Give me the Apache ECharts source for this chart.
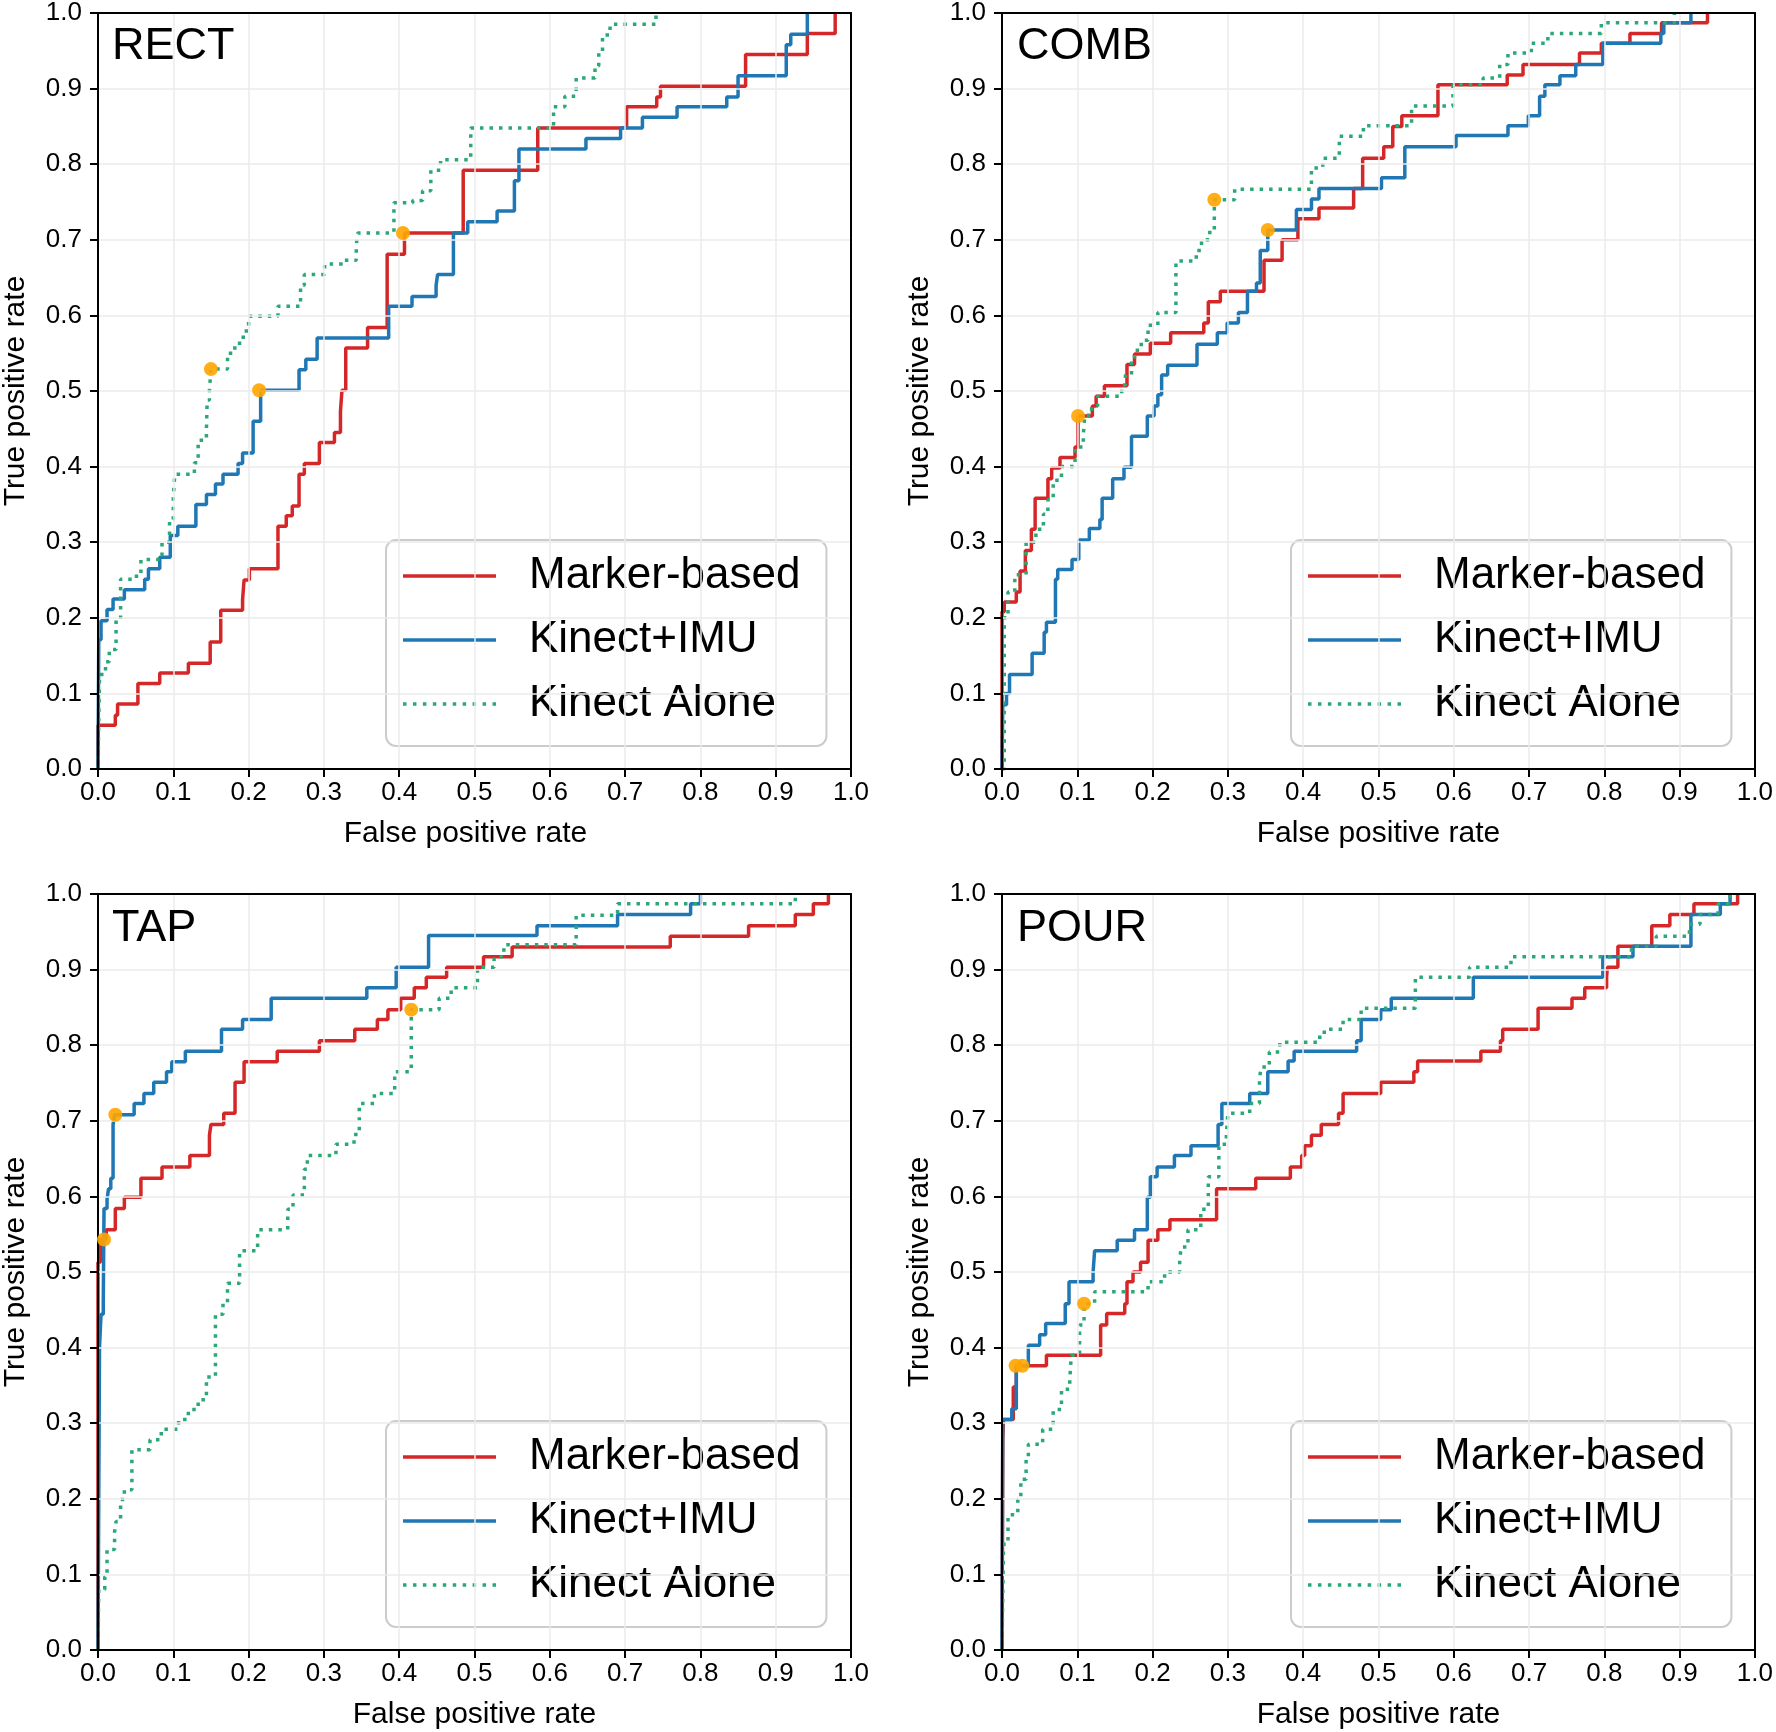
<!DOCTYPE html>
<html><head><meta charset="utf-8">
<script src="https://cdn.jsdelivr.net/npm/echarts@6/dist/echarts.min.js"></script>
<style>html,body{margin:0;padding:0;background:#fff}#c{width:1776px;height:1732px}</style>
</head><body><div id="c"></div>
<script>
// ---------------- DATA ----------------
const panelNames = ['RECT', 'COMB', 'TAP', 'POUR'];
const seriesNames = ['Marker-based', 'Kinect+IMU', 'Kinect Alone'];
const tickLabels = ['0.0','0.1','0.2','0.3','0.4','0.5','0.6','0.7','0.8','0.9','1.0'];
const xAxisTitle = 'False positive rate';
const yAxisTitle = 'True positive rate';

// each point: [false positive rate where the curve jumps, true positive rate after the jump]
const rectMarkerBased = [[0,0],[0,0.058],[0.023,0.071],[0.026,0.086],[0.053,0.113],[0.082,0.127],[0.120,0.140],[0.149,0.168],[0.163,0.210],[0.192,0.224],[0.194,0.250],[0.201,0.265],[0.239,0.321],[0.250,0.335],[0.258,0.348],[0.267,0.390],[0.274,0.404],[0.294,0.432],[0.314,0.445],[0.322,0.473],[0.324,0.501],[0.329,0.557],[0.358,0.584],[0.384,0.681],[0.407,0.709],[0.485,0.792],[0.584,0.848],[0.702,0.876],[0.742,0.889],[0.747,0.903],[0.860,0.945],[0.942,0.973],[0.979,1.0]];
const rectKinectIMU = [[0,0],[0.001,0.171],[0.004,0.196],[0.012,0.211],[0.020,0.225],[0.035,0.237],[0.062,0.251],[0.067,0.265],[0.082,0.280],[0.096,0.309],[0.106,0.321],[0.130,0.350],[0.144,0.363],[0.156,0.377],[0.166,0.390],[0.186,0.404],[0.192,0.418],[0.206,0.460],[0.216,0.501],[0.267,0.528],[0.276,0.542],[0.291,0.570],[0.386,0.612],[0.417,0.625],[0.449,0.640],[0.451,0.654],[0.472,0.709],[0.491,0.724],[0.530,0.738],[0.553,0.778],[0.559,0.820],[0.648,0.834],[0.694,0.848],[0.723,0.862],[0.769,0.876],[0.835,0.889],[0.850,0.917],[0.914,0.958],[0.920,0.972],[0.942,1.0]];
const rectKinectAlone = [[0,0],[0.002,0.125],[0.010,0.142],[0.015,0.158],[0.024,0.198],[0.030,0.251],[0.045,0.255],[0.057,0.277],[0.082,0.283],[0.085,0.300],[0.095,0.330],[0.100,0.360],[0.102,0.390],[0.128,0.405],[0.133,0.435],[0.144,0.449],[0.145,0.488],[0.148,0.501],[0.150,0.529],[0.172,0.544],[0.176,0.557],[0.188,0.571],[0.197,0.586],[0.200,0.599],[0.239,0.612],[0.269,0.640],[0.274,0.654],[0.301,0.668],[0.327,0.673],[0.343,0.693],[0.345,0.709],[0.393,0.749],[0.418,0.752],[0.431,0.765],[0.442,0.792],[0.455,0.806],[0.495,0.848],[0.605,0.876],[0.620,0.890],[0.635,0.914],[0.660,0.930],[0.665,0.947],[0.670,0.971],[0.680,0.985],[0.741,1.0]];
const rectOptimal = [[0.150,0.529],[0.214,0.501],[0.405,0.709]];

const combMarkerBased = [[0,0],[0,0.208],[0.003,0.221],[0.019,0.234],[0.024,0.262],[0.031,0.289],[0.039,0.317],[0.044,0.358],[0.061,0.384],[0.066,0.398],[0.077,0.412],[0.097,0.426],[0.101,0.467],[0.120,0.480],[0.125,0.493],[0.136,0.507],[0.166,0.535],[0.176,0.549],[0.197,0.563],[0.224,0.577],[0.268,0.590],[0.274,0.618],[0.290,0.632],[0.348,0.673],[0.372,0.700],[0.393,0.728],[0.421,0.742],[0.467,0.768],[0.479,0.808],[0.507,0.823],[0.519,0.850],[0.531,0.864],[0.579,0.905],[0.671,0.918],[0.692,0.932],[0.767,0.947],[0.796,0.960],[0.834,0.973],[0.876,0.987],[0.937,1.0]];
const combKinectIMU = [[0,0],[0.001,0.085],[0.006,0.100],[0.010,0.125],[0.040,0.153],[0.056,0.181],[0.059,0.194],[0.071,0.251],[0.074,0.264],[0.093,0.277],[0.102,0.303],[0.116,0.318],[0.130,0.330],[0.133,0.358],[0.147,0.384],[0.162,0.399],[0.172,0.440],[0.193,0.467],[0.202,0.480],[0.207,0.495],[0.212,0.521],[0.220,0.534],[0.259,0.562],[0.286,0.577],[0.299,0.590],[0.314,0.604],[0.326,0.632],[0.338,0.643],[0.343,0.686],[0.353,0.713],[0.391,0.740],[0.411,0.754],[0.421,0.768],[0.504,0.782],[0.535,0.823],[0.603,0.838],[0.672,0.851],[0.699,0.864],[0.714,0.890],[0.721,0.905],[0.741,0.917],[0.762,0.932],[0.798,0.960],[0.875,0.973],[0.879,0.987],[0.915,1.0]];
const combKinectAlone = [[0,0],[0.003,0.200],[0.008,0.234],[0.017,0.257],[0.032,0.300],[0.045,0.317],[0.055,0.337],[0.061,0.356],[0.068,0.382],[0.079,0.400],[0.097,0.426],[0.108,0.442],[0.110,0.468],[0.119,0.480],[0.127,0.493],[0.159,0.508],[0.164,0.521],[0.172,0.541],[0.176,0.554],[0.185,0.567],[0.194,0.587],[0.207,0.604],[0.231,0.672],[0.258,0.686],[0.265,0.700],[0.276,0.713],[0.282,0.753],[0.309,0.767],[0.411,0.795],[0.426,0.808],[0.448,0.837],[0.480,0.851],[0.544,0.877],[0.599,0.905],[0.639,0.914],[0.661,0.932],[0.672,0.947],[0.703,0.960],[0.725,0.973],[0.796,0.987],[0.893,1.0]];
const combOptimal = [[0.101,0.467],[0.282,0.753],[0.353,0.713]];

const tapMarkerBased = [[0,0],[0,0.513],[0.003,0.543],[0.011,0.556],[0.023,0.584],[0.035,0.599],[0.057,0.624],[0.085,0.639],[0.122,0.654],[0.148,0.681],[0.150,0.695],[0.167,0.710],[0.182,0.751],[0.194,0.778],[0.238,0.792],[0.294,0.806],[0.341,0.821],[0.371,0.834],[0.385,0.847],[0.402,0.862],[0.420,0.876],[0.436,0.890],[0.463,0.903],[0.512,0.917],[0.550,0.930],[0.760,0.944],[0.864,0.958],[0.926,0.973],[0.950,0.987],[0.970,1.0]];
const tapKinectIMU = [[0,0],[0.002,0.400],[0.004,0.444],[0.007,0.458],[0.008,0.584],[0.012,0.596],[0.014,0.610],[0.017,0.624],[0.020,0.695],[0.022,0.708],[0.048,0.723],[0.061,0.736],[0.074,0.751],[0.091,0.765],[0.098,0.778],[0.116,0.792],[0.164,0.821],[0.192,0.834],[0.230,0.862],[0.357,0.876],[0.396,0.903],[0.439,0.945],[0.583,0.958],[0.690,0.973],[0.787,0.987],[0.800,1.0]];
const tapKinectAlone = [[0,0],[0.001,0.080],[0.009,0.097],[0.012,0.133],[0.022,0.156],[0.024,0.170],[0.030,0.199],[0.035,0.212],[0.045,0.265],[0.069,0.278],[0.084,0.292],[0.107,0.305],[0.120,0.318],[0.133,0.331],[0.144,0.361],[0.156,0.444],[0.166,0.458],[0.172,0.485],[0.188,0.528],[0.212,0.556],[0.252,0.583],[0.259,0.602],[0.274,0.636],[0.278,0.654],[0.316,0.669],[0.340,0.682],[0.347,0.723],[0.367,0.736],[0.394,0.765],[0.416,0.847],[0.453,0.862],[0.469,0.876],[0.504,0.903],[0.526,0.917],[0.539,0.933],[0.635,0.972],[0.690,0.987],[0.926,1.0]];
const tapOptimal = [[0.023,0.708],[0.008,0.543],[0.416,0.847]];

const pourMarkerBased = [[0,0],[0.001,0.278],[0.002,0.305],[0.015,0.348],[0.019,0.376],[0.059,0.390],[0.131,0.430],[0.139,0.445],[0.163,0.458],[0.166,0.487],[0.174,0.500],[0.184,0.513],[0.194,0.542],[0.207,0.556],[0.223,0.569],[0.285,0.610],[0.337,0.624],[0.383,0.639],[0.398,0.654],[0.402,0.667],[0.411,0.681],[0.424,0.695],[0.447,0.710],[0.453,0.736],[0.503,0.751],[0.547,0.765],[0.552,0.779],[0.636,0.792],[0.662,0.806],[0.665,0.821],[0.712,0.849],[0.757,0.862],[0.774,0.876],[0.803,0.890],[0.804,0.903],[0.818,0.931],[0.863,0.958],[0.887,0.973],[0.919,0.987],[0.977,1.0]];
const pourKinectIMU = [[0,0],[0.001,0.305],[0.013,0.319],[0.019,0.376],[0.035,0.403],[0.050,0.417],[0.058,0.432],[0.084,0.458],[0.089,0.487],[0.121,0.500],[0.123,0.528],[0.153,0.542],[0.176,0.556],[0.193,0.599],[0.197,0.626],[0.206,0.639],[0.229,0.654],[0.251,0.667],[0.287,0.695],[0.292,0.723],[0.329,0.736],[0.353,0.765],[0.380,0.779],[0.388,0.792],[0.471,0.806],[0.477,0.834],[0.503,0.847],[0.517,0.862],[0.626,0.890],[0.798,0.917],[0.838,0.931],[0.915,0.973],[0.954,0.987],[0.967,1.0]];
const pourKinectAlone = [[0,0],[0.002,0.140],[0.008,0.179],[0.021,0.199],[0.025,0.226],[0.032,0.252],[0.035,0.272],[0.054,0.292],[0.068,0.318],[0.079,0.345],[0.090,0.358],[0.092,0.390],[0.103,0.430],[0.109,0.458],[0.123,0.474],[0.194,0.487],[0.216,0.500],[0.236,0.516],[0.238,0.533],[0.247,0.556],[0.264,0.583],[0.274,0.626],[0.288,0.669],[0.298,0.683],[0.300,0.710],[0.329,0.723],[0.342,0.755],[0.344,0.771],[0.355,0.791],[0.369,0.804],[0.422,0.813],[0.428,0.821],[0.453,0.834],[0.477,0.849],[0.549,0.890],[0.621,0.903],[0.676,0.917],[0.836,0.931],[0.869,0.944],[0.913,0.960],[0.927,0.973],[0.951,0.987],[0.967,1.0]];
const pourOptimal = [[0.018,0.376],[0.027,0.376],[0.109,0.458]];

const panelCurves = [
  [rectMarkerBased, rectKinectIMU, rectKinectAlone],
  [combMarkerBased, combKinectIMU, combKinectAlone],
  [tapMarkerBased, tapKinectIMU, tapKinectAlone],
  [pourMarkerBased, pourKinectIMU, pourKinectAlone]
];
const panelOptimal = [rectOptimal, combOptimal, tapOptimal, pourOptimal];

// ---------------- STYLE / LAYOUT ----------------
const FONT = '"Liberation Sans", Arial, Helvetica, sans-serif';
const colors = ['#d62728', '#1f77b4', '#2aa876'];
const lineTypes = ['solid', 'solid', [3.5, 6]];
const grids = [
  {left: 97, top: 12, width: 754, height: 757},
  {left: 1002, top: 12, width: 753, height: 757},
  {left: 97, top: 894, width: 754, height: 756},
  {left: 1002, top: 894, width: 753, height: 756}
];
const xNamePad = [[0, 18, 0, 0], [0, 0, 0, 0], [0, 0, 0, 0], [0, 0, 0, 0]];

// legend icons (line samples 93 x 3.5 px)
const ICON_W = 93, ICON_H = 3.5;
const solidIcon = 'path://M0,0H' + ICON_W + 'V' + ICON_H + 'H0Z';
let dotPath = '';
const nDots = 10, dotStep = (ICON_W - ICON_H) / (nDots - 1);
for (let k = 0; k < nDots; k++) {
  const x0 = (k * dotStep).toFixed(2);
  dotPath += 'M' + x0 + ',0h' + ICON_H + 'v' + ICON_H + 'h-' + ICON_H + 'Z';
}
const dottedIcon = 'path://' + dotPath;
const legendIcons = [solidIcon, solidIcon, dottedIcon];

const spine = {show: true, onZero: false, lineStyle: {color: '#000', width: 2}};
const tick = {show: true, inside: false, length: 8, lineStyle: {color: '#000', width: 2}};
const gridLine = {show: true, showMinLine: false, showMaxLine: false, lineStyle: {color: '#ebebeb', width: 1.5}};
const labelFmt = v => tickLabels[Math.round(v * 10)];

const xAxes = grids.map((g, i) => ({
  type: 'value', gridIndex: i, min: 0, max: 1, interval: 0.1, position: 'bottom', z: 5,
  name: xAxisTitle, nameLocation: 'middle', nameGap: 50,
  nameTextStyle: {fontSize: 30, color: '#000', fontFamily: FONT, padding: xNamePad[i]},
  axisLine: spine, axisTick: tick,
  axisLabel: {fontSize: 26, color: '#000', margin: 11, fontFamily: FONT, formatter: labelFmt},
  splitLine: gridLine
}));
const yAxes = grids.map((g, i) => ({
  type: 'value', gridIndex: i, min: 0, max: 1, interval: 0.1, position: 'left', z: 5,
  name: yAxisTitle, nameLocation: 'middle', nameGap: 67,
  nameTextStyle: {fontSize: 30, color: '#000', fontFamily: FONT},
  axisLine: spine, axisTick: tick,
  axisLabel: {fontSize: 26, color: '#000', margin: 16, fontFamily: FONT, formatter: labelFmt},
  splitLine: gridLine
}));
// top and right spines
grids.forEach((g, i) => {
  xAxes.push({type: 'value', gridIndex: i, min: 0, max: 1, position: 'top', z: 5,
    axisLine: spine, axisTick: {show: false}, axisLabel: {show: false}, splitLine: {show: false}});
  yAxes.push({type: 'value', gridIndex: i, min: 0, max: 1, position: 'right', z: 5,
    axisLine: spine, axisTick: {show: false}, axisLabel: {show: false}, splitLine: {show: false}});
});

const option = {
  backgroundColor: '#ffffff',
  animation: false,
  textStyle: {fontFamily: FONT},
  grid: grids.map(g => Object.assign({show: false, containLabel: false}, g)),
  xAxis: xAxes,
  yAxis: yAxes,
  title: grids.map((g, i) => ({
    text: panelNames[i], left: g.left + 15, top: g.top + 12, padding: 0,
    textStyle: {fontSize: 45, fontWeight: 'normal', color: '#000', fontFamily: FONT}
  })),
  legend: grids.map((g, i) => ({
    data: seriesNames.map((n, s) => ({name: n, icon: legendIcons[s]})),
    orient: 'vertical',
    left: g.left + 289, top: g.top + g.height - 229,
    padding: [14, 26, 20, 17],
    itemWidth: ICON_W, itemHeight: ICON_H, itemGap: 20,
    backgroundColor: 'rgba(255,255,255,0.8)',
    borderColor: '#cccccc', borderWidth: 2, borderRadius: 10,
    selectedMode: false,
    textStyle: {fontSize: 44, color: '#000', fontFamily: FONT, lineHeight: 44, padding: [0, 0, 0, 28]}
  })),
  series: []
};

for (let p = 0; p < 4; p++) {
  for (let s = 0; s < 3; s++) {
    option.series.push({
      type: 'line', name: seriesNames[s], xAxisIndex: p, yAxisIndex: p,
      data: panelCurves[p][s], step: 'end', symbol: 'none', showSymbol: false,
      lineStyle: {color: colors[s], width: 3.5, type: lineTypes[s], cap: 'butt'},
      itemStyle: {color: colors[s]},
      z: 2 + s, clip: true
    });
  }
  option.series.push({
    type: 'scatter', name: 'optimal', xAxisIndex: p, yAxisIndex: p,
    data: panelOptimal[p], symbol: 'circle', symbolSize: 14,
    itemStyle: {color: '#ffa500', opacity: 0.9}, z: 10
  });
}

const chart = echarts.init(document.getElementById('c'), null, {renderer: 'canvas'});
chart.setOption(option);
</script>
</body></html>
